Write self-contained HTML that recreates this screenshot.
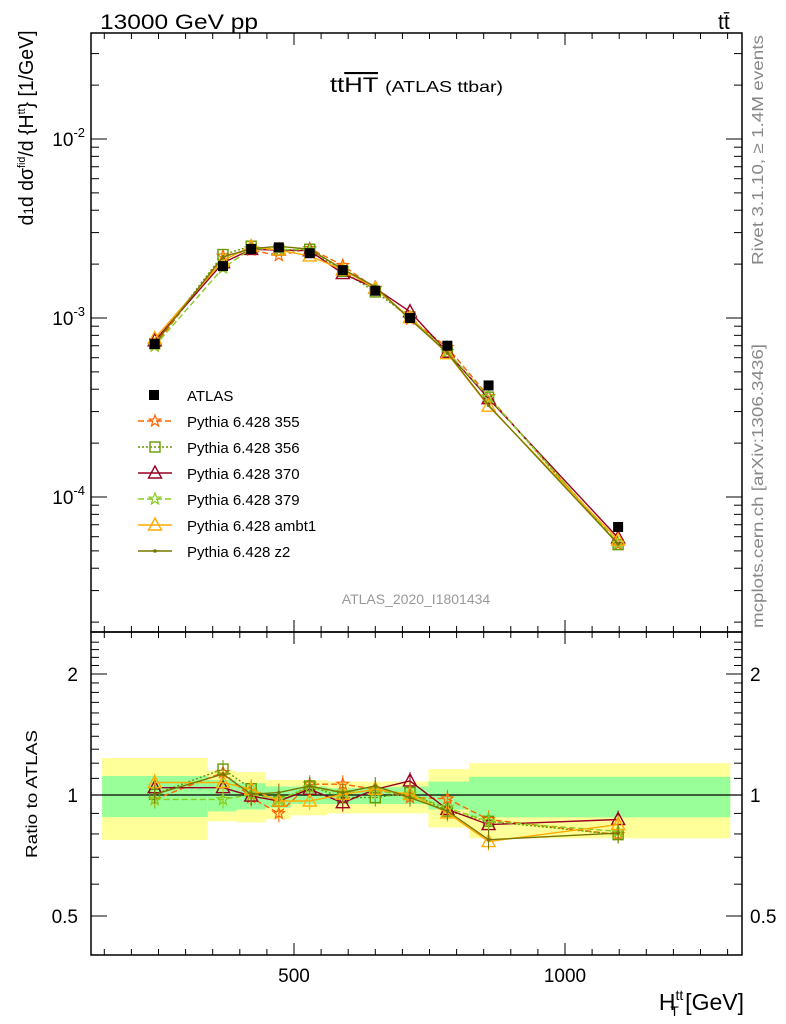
<!DOCTYPE html>
<html><head><meta charset="utf-8"><style>
body{margin:0;background:#fff;}
svg{display:block;font-family:"Liberation Sans",Arial,sans-serif;}
</style></head><body>
<svg id="chart" width="786" height="1024" xmlns="http://www.w3.org/2000/svg">
<g id="bands"></g>
<g id="marks"></g>
<g id="axes"></g>
<text x="100" y="29" font-size="21" textLength="158" lengthAdjust="spacingAndGlyphs">13000 GeV pp</text>
<text x="718" y="29" font-size="21">tt̄</text>
<text x="330" y="92" font-size="21" textLength="173" lengthAdjust="spacingAndGlyphs">tt<tspan text-decoration="overline">HT</tspan> <tspan font-size="16">(ATLAS ttbar)</tspan></text>
<text x="416" y="604" font-size="14" fill="#999" text-anchor="middle">ATLAS_2020_I1801434</text>
<text transform="translate(763,265) rotate(-90)" font-size="16" fill="#888" textLength="230" lengthAdjust="spacingAndGlyphs">Rivet 3.1.10, ≥ 1.4M events</text>
<text transform="translate(763,628) rotate(-90)" font-size="16" fill="#888" textLength="284" lengthAdjust="spacingAndGlyphs">mcplots.cern.ch [arXiv:1306.3436]</text>
<text transform="translate(33,128) rotate(-90)" font-size="20" text-anchor="middle" textLength="195" lengthAdjust="spacingAndGlyphs">d<tspan font-size="14">1</tspan>d dσ<tspan font-size="11" dy="-8">fid</tspan><tspan dy="8">/d {H</tspan><tspan font-size="11" dy="-8">tt</tspan><tspan dy="8">} [1/GeV]</tspan></text>
<text transform="translate(37,794) rotate(-90)" font-size="16" text-anchor="middle" textLength="128" lengthAdjust="spacingAndGlyphs">Ratio to ATLAS</text>
<text x="744" y="1010" font-size="23" text-anchor="end">H<tspan font-size="14" dy="-10">tt</tspan><tspan font-size="14" dx="-13" dy="16">T</tspan><tspan dy="-6"> [GeV]</tspan></text>
<g id="legend"></g>
</svg>
<script>
const xCenters=[243,369,421,472,529,590,650,714,783,859,1098];
const binEdges=[146,341,394,448,494,561,621,698,748,823,1305];
const atlas=[0.715e-3,1.95e-3,2.43e-3,2.48e-3,2.3e-3,1.85e-3,1.42e-3,1.0e-3,0.7e-3,0.42e-3,6.8e-5];
const greenUp=[1.115,1.09,1.07,1.05,1.05,1.04,1.045,1.05,1.08,1.11];
const greenDn=[0.881,0.91,0.92,0.93,0.95,0.95,0.95,0.95,0.92,0.88];
const yellowUp=[1.236,1.15,1.14,1.09,1.09,1.08,1.08,1.08,1.16,1.20];
const yellowDn=[0.773,0.86,0.855,0.87,0.89,0.90,0.90,0.90,0.83,0.78];
const r355=[0.975,1.138,0.985,0.900,1.064,1.064,1.033,0.985,0.979,0.869,0.797];
const r356=[1.004,1.16,1.037,0.966,1.053,0.985,0.985,1.014,0.912,0.860,0.797];
const r370=[1.043,1.043,0.994,0.966,1.033,0.957,1.033,1.084,0.921,0.844,0.869];
const r379=[0.975,0.975,1.004,0.975,1.043,1.014,1.024,1.004,0.929,0.860,0.812];
const rAmbt1=[1.074,1.074,1.033,0.966,0.966,1.004,1.033,1.004,0.903,0.766,0.844];
const rZ2=[1.004,1.127,1.004,1.014,1.053,1.014,1.053,0.985,0.912,0.774,0.804];
const seriesNames=["Pythia 6.428 355","Pythia 6.428 356","Pythia 6.428 370","Pythia 6.428 379","Pythia 6.428 ambt1","Pythia 6.428 z2"];
const xTicks=[500,1000];
const yExps=[-2,-3,-4];
const rTicks=[0.5,1,2];

const NS="http://www.w3.org/2000/svg";
const L=91,R=742,T=33,B=632,RB=955;
const X=v=>294+(v-500)*(565-294)/500;
const Y=v=>318-179*Math.log10(v/1e-3);
const RY=v=>795-121*Math.log2(v);
function mk(tag,attrs,parent){const e=document.createElementNS(NS,tag);for(const k in attrs)e.setAttribute(k,attrs[k]);parent.appendChild(e);return e;}
const bands=document.getElementById('bands'),marks=document.getElementById('marks'),axes=document.getElementById('axes'),legend=document.getElementById('legend');

for(let i=0;i<greenUp.length;i++){
  const x0=X(binEdges[i]),x1=X(binEdges[i+1]);
  const y=mk('rect',{x:x0,y:RY(yellowUp[i]),width:x1-x0,height:RY(yellowDn[i])-RY(yellowUp[i]),fill:'#ffff99'},bands);
  
  
  const g=mk('rect',{x:x0,y:RY(greenUp[i]),width:x1-x0,height:RY(greenDn[i])-RY(greenUp[i]),fill:'#99ff99'},bands);
  
  
}
const ref=mk('line',{x1:L,x2:R,y1:RY(1),y2:RY(1),stroke:'#000','stroke-width':1.2},bands);



const styles=[
 {c:'#ff6600',d:'6,3',m:'star',r:r355},
 {c:'#669900',d:'2,2',m:'square',r:r356},
 {c:'#990022',d:'',m:'tri',r:r370},
 {c:'#88cc22',d:'6,3',m:'star',r:r379},
 {c:'#ffaa00',d:'',m:'tri',r:rAmbt1},
 {c:'#777700',d:'',m:'dot',r:rZ2}
];
function marker(m,c,x,y,p,name){
  let e;
  if(m==='square') e=mk('rect',{x:x-5,y:y-5,width:10,height:10,fill:'none',stroke:c,'stroke-width':1.4},p);
  else if(m==='tri') e=mk('polygon',{points:`${x},${y-7} ${x-6.5},${y+5} ${x+6.5},${y+5}`,fill:'none',stroke:c,'stroke-width':1.4},p);
  else if(m==='star'){let pts=[];for(let k=0;k<10;k++){const a=-Math.PI/2+k*Math.PI/5,rr=k%2?2.5:6;pts.push((x+rr*Math.cos(a)).toFixed(1)+','+(y+rr*Math.sin(a)).toFixed(1));}e=mk('polygon',{points:pts.join(' '),fill:'none',stroke:c,'stroke-width':1.2},p);}
  else e=mk('circle',{cx:x,cy:y,r:1.8,fill:c},p);
  
  
}
styles.forEach((s,si)=>{
  const mainPts=xCenters.map((x,i)=>X(x).toFixed(1)+','+Y(atlas[i]*s.r[i]).toFixed(1)).join(' ');
  const ratioPts=xCenters.map((x,i)=>X(x).toFixed(1)+','+RY(s.r[i]).toFixed(1)).join(' ');
  const l1=mk('polyline',{points:mainPts,fill:'none',stroke:s.c,'stroke-width':1.4,'stroke-dasharray':s.d},marks);
  
  
  const l2=mk('polyline',{points:ratioPts,fill:'none',stroke:s.c,'stroke-width':1.4,'stroke-dasharray':s.d},marks);
  
  
  xCenters.forEach((x,i)=>{
    const px=X(x),py=RY(s.r[i]);
    const eb=mk('line',{x1:px,x2:px,y1:py-9,y2:py+9,stroke:s.c,'stroke-width':1},marks);
    
    
    marker(s.m,s.c,px,Y(atlas[i]*s.r[i]),marks,'series-point');
    marker(s.m,s.c,px,py,marks,'ratio-point');
  });
});
xCenters.forEach((x,i)=>{
  const a=mk('rect',{x:X(x)-5,y:Y(atlas[i])-5,width:10,height:10,fill:'#000'},marks);
  
  
});

[[T,B],[B,RB]].forEach(([t,b],k)=>{
  const f=mk('rect',{x:L,y:t,width:R-L,height:b-t,fill:'none',stroke:'#000','stroke-width':1.5},axes);
  
  
});
for(let v=150;v<=1300;v+=50){
  const px=X(v),maj=v%500===0;
  [[T,1],[B,-1],[B,1],[RB,-1]].forEach(([y,d])=>{mk('line',{x1:px,x2:px,y1:y,y2:y+d*(maj?12:6),stroke:'#000'},axes);});
}
xTicks.forEach(v=>{const t=mk('text',{x:X(v),y:982,'font-size':19,'text-anchor':'middle'},axes);t.textContent=v;
  
  });
for(let e=-5;e<=-1;e++)for(let m=1;m<10;m++){
  const py=Y(m*Math.pow(10,e));if(py<T||py>B)continue;
  const len=m===1?16:8;
  mk('line',{x1:L,x2:L+len,y1:py,y2:py,stroke:'#000'},axes);
  mk('line',{x1:R,x2:R-len,y1:py,y2:py,stroke:'#000'},axes);
}
yExps.forEach(e=>{const t=mk('text',{x:85,y:Y(Math.pow(10,e))+7,'font-size':19,'text-anchor':'end'},axes);
  t.innerHTML='10<tspan font-size="13" dy="-9">'+e+'</tspan>';
  
  });
for(let v=0.4;v<=2.5;v+=0.1){
  const py=RY(v);if(py<B||py>RB)continue;
  const maj=Math.abs(v-0.5)<1e-6||Math.abs(v-1)<1e-6||Math.abs(v-2)<1e-6;
  const len=maj?16:8;
  mk('line',{x1:L,x2:L+len,y1:py,y2:py,stroke:'#000'},axes);
  mk('line',{x1:R,x2:R-len,y1:py,y2:py,stroke:'#000'},axes);
}
rTicks.forEach(v=>{
  const t=mk('text',{x:78,y:RY(v)+7,'font-size':19,'text-anchor':'end'},axes);t.textContent=v;
  
  
  const t2=mk('text',{x:750,y:RY(v)+7,'font-size':19},axes);t2.textContent=v;
  
  
});
const la=mk('rect',{x:149,y:390,width:10,height:10,fill:'#000'},legend);


const lt=mk('text',{x:187,y:401,'font-size':15},legend);lt.textContent='ATLAS';


styles.forEach((s,i)=>{
  const y=421+i*26;
  const ll=mk('line',{x1:138,x2:172,y1:y,y2:y,stroke:s.c,'stroke-width':1.4,'stroke-dasharray':s.d},legend);
  
  
  marker(s.m,s.c,155,y,legend,'legend-marker');
  const t=mk('text',{x:187,y:y+6,'font-size':15},legend);t.textContent=seriesNames[i];
  
  
});
</script>
</body></html>
